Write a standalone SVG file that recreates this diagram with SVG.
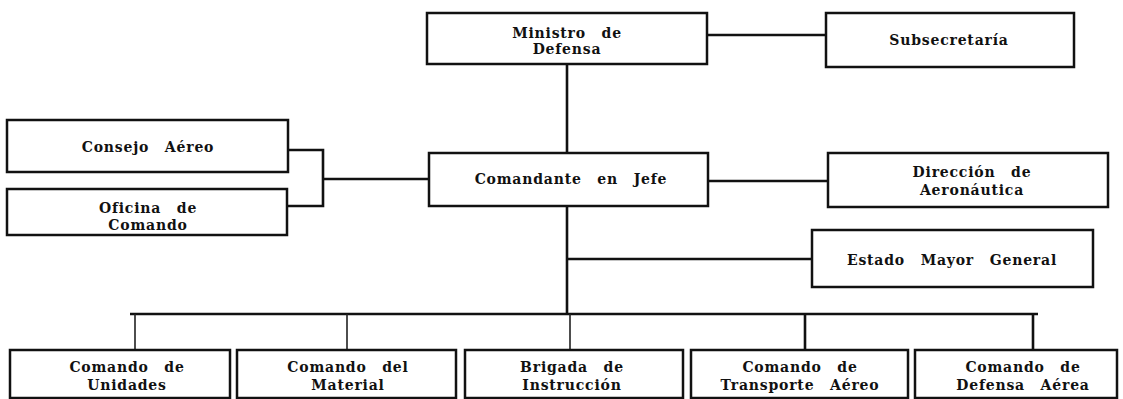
<svg xmlns="http://www.w3.org/2000/svg" width="1123" height="399" viewBox="0 0 1123 399">
<style>
.box{fill:#fff;stroke:#111;stroke-width:2.5}
.ln{fill:none;stroke:#111;stroke-width:2.6}
.dr{fill:none;stroke:#222;stroke-width:1.6}
text{font-family:"DejaVu Serif","Liberation Serif",serif;font-size:14px;font-weight:bold;fill:#111;text-anchor:middle;letter-spacing:0.8px;word-spacing:10px}
</style>
<rect width="1123" height="399" fill="#fff"/>
<g id="connectors">
<path class="ln" d="M567 64V314"/>
<path class="ln" d="M707 35H826"/>
<path class="ln" d="M288 150H323V206H287"/>
<path class="ln" d="M323 179H429"/>
<path class="ln" d="M708 181H828"/>
<path class="ln" d="M567 259H812"/>
<path class="ln" d="M130 314H1038"/>
<path class="dr" d="M135 314V350M347 314V350M570 314V350"/>
<path class="ln" d="M805 314V350M1033 314V350"/>
</g>
<g id="ministro"><rect class="box" x="427" y="13" width="280" height="51"/><text x="567" y="38">Ministro de</text><text x="567" y="54">Defensa</text></g>
<g id="subsecretaria"><rect class="box" x="826" y="13" width="248" height="54"/><text x="949" y="45">Subsecretaría</text></g>
<g id="consejo"><rect class="box" x="7" y="120" width="281" height="52"/><text x="148" y="152">Consejo Aéreo</text></g>
<g id="oficina"><rect class="box" x="7" y="189" width="280" height="46"/><text x="148" y="213">Oficina de</text><text x="148" y="230">Comando</text></g>
<g id="comandante"><rect class="box" x="429" y="153" width="279" height="53"/><text x="571" y="184">Comandante en Jefe</text></g>
<g id="direccion"><rect class="box" x="828" y="153" width="280" height="54"/><text x="972" y="177">Dirección de</text><text x="972" y="195">Aeronáutica</text></g>
<g id="estado"><rect class="box" x="812" y="230" width="281" height="57"/><text x="952" y="265">Estado Mayor General</text></g>
<g id="unidades"><rect class="box" x="10" y="350" width="220" height="48"/><text x="127" y="372">Comando de</text><text x="127" y="390">Unidades</text></g>
<g id="material"><rect class="box" x="237" y="350" width="219" height="48"/><text x="348" y="372">Comando del</text><text x="348" y="390">Material</text></g>
<g id="brigada"><rect class="box" x="465" y="350" width="218" height="48"/><text x="572" y="372">Brigada de</text><text x="572" y="390">Instrucción</text></g>
<g id="transporte"><rect class="box" x="691" y="350" width="217" height="48"/><text x="800" y="372">Comando de</text><text x="800" y="390">Transporte Aéreo</text></g>
<g id="defensa"><rect class="box" x="915" y="350" width="202" height="48"/><text x="1023" y="372">Comando de</text><text x="1023" y="390">Defensa Aérea</text></g>
</svg>
